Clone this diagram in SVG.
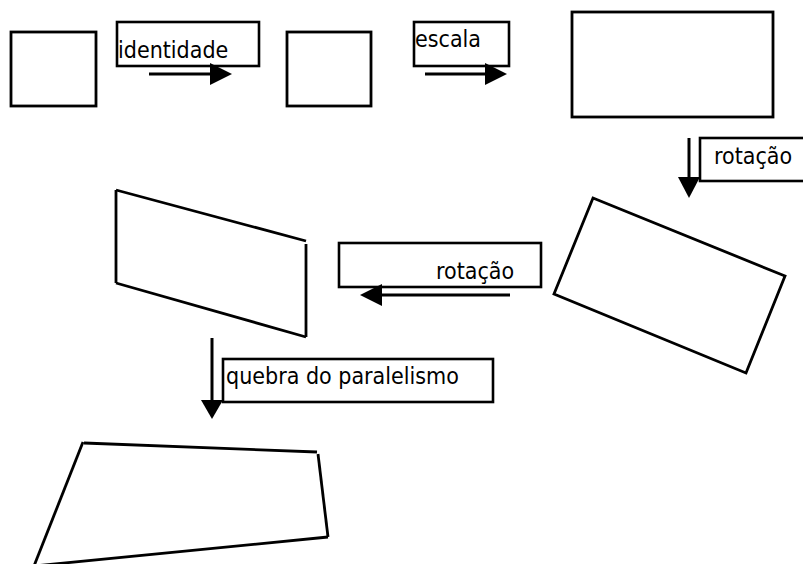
<svg xmlns="http://www.w3.org/2000/svg" width="803" height="564" viewBox="0 0 803 564">
<style>
.s{fill:none;stroke:#000;stroke-width:2.8;stroke-linecap:butt}
.b{fill:#fff;stroke:#000;stroke-width:2.6}
.t{font-family:"DejaVu Sans Condensed","DejaVu Sans",sans-serif;font-size:23px;fill:#000}
.l{stroke:#000;stroke-width:3;fill:none}
.h{fill:#000;stroke:none}
</style>
<rect width="803" height="564" fill="#fff"/>
<g id="square1"><rect class="s" x="11" y="32" width="85" height="74"/></g>
<g id="square2"><rect class="s" x="287" y="32" width="84" height="74"/></g>
<g id="bigrect"><rect class="s" x="572" y="12" width="201" height="105"/></g>
<g id="rotated"><polygon class="s" points="593,198 785,276 746,373 554,294"/></g>
<g id="parallelogram">
<line class="s" x1="116" y1="190" x2="306" y2="241"/>
<line class="s" x1="306" y1="244" x2="306" y2="337"/>
<line class="s" x1="306" y1="337" x2="116" y2="283"/>
<line class="s" x1="116" y1="283" x2="116" y2="190"/>
</g>
<g id="quad">
<line class="s" x1="84" y1="443" x2="317" y2="452"/>
<line class="s" x1="318" y1="454" x2="328" y2="537"/>
<line class="s" x1="328" y1="537" x2="34" y2="566"/>
<line class="s" x1="83" y1="442" x2="34" y2="566"/>
</g>
<g id="label-identidade"><rect class="b" x="117" y="22" width="142" height="44"/><text class="t" x="118" y="58">identidade</text></g>
<g id="label-escala"><rect class="b" x="414" y="22" width="95" height="44"/><text class="t" x="415" y="47">escala</text></g>
<g id="label-rotacao1"><rect class="b" x="700" y="138" width="105" height="43"/><text class="t" x="714" y="164">rotação</text></g>
<g id="label-rotacao2"><rect class="b" x="339" y="243" width="202" height="44"/><text class="t" x="436" y="279">rotação</text></g>
<g id="label-quebra"><rect class="b" x="223" y="359" width="270" height="43"/><text class="t" x="226" y="384">quebra do paralelismo</text></g>
<g id="connectors">
<line class="l" x1="149" y1="74" x2="212" y2="74"/><polygon class="h" points="210,63 232,74 210,85"/>
<line class="l" x1="425" y1="74" x2="487" y2="74"/><polygon class="h" points="485,63 507,74 485,85"/>
<line class="l" x1="689" y1="138" x2="689" y2="179"/><polygon class="h" points="678,177 700,177 689,198"/>
<line class="l" x1="510" y1="295" x2="380" y2="295"/><polygon class="h" points="382,284 382,306 360,295"/>
<line class="l" x1="212" y1="338" x2="212" y2="402"/><polygon class="h" points="201,400 223,400 212,419"/>
</g>
</svg>
